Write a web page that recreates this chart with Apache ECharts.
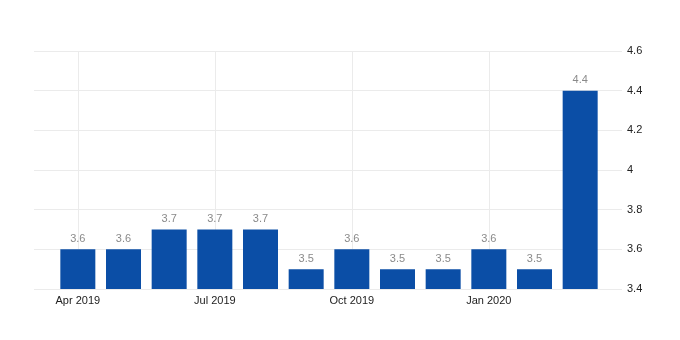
<!DOCTYPE html>
<html>
<head>
<meta charset="utf-8">
<script src="https://cdn.jsdelivr.net/npm/echarts@6/dist/echarts.min.js"></script>
<style>html,body{margin:0;padding:0;background:#fff}#c{width:680px;height:340px}</style>
</head>
<body>
<div id="c"></div>
<script>
const categories = ['Apr 2019','May 2019','Jun 2019','Jul 2019','Aug 2019','Sep 2019','Oct 2019','Nov 2019','Dec 2019','Jan 2020','Feb 2020','Mar 2020'];
const values = [3.6, 3.6, 3.7, 3.7, 3.7, 3.5, 3.6, 3.5, 3.5, 3.6, 3.5, 4.4];
const markedMonths = ['Apr 2019','Jul 2019','Oct 2019','Jan 2020'];
const yMin = 3.4, yMax = 4.6, yStep = 0.2;

const chart = echarts.init(document.getElementById('c'), null, {renderer: 'canvas'});
chart.setOption({
  animation: false,
  grid: [
    {left: 34, right: 58, top: 51, bottom: 51},
    {left: 55, right: 77, top: 51, bottom: 51}
  ],
  xAxis: [
    {gridIndex: 0, type: 'category', data: categories, show: false},
    {gridIndex: 1, type: 'category', data: categories,
     axisLine: {show: false}, axisTick: {show: false},
     axisLabel: {interval: 2, color: '#222', fontSize: 11, fontFamily: 'Liberation Sans', margin: 6},
     splitLine: {show: false}}
  ],
  yAxis: [
    {gridIndex: 0, type: 'value', position: 'right', min: yMin, max: yMax, interval: yStep,
     axisLine: {show: false}, axisTick: {show: false},
     axisLabel: {color: '#222', fontSize: 11, fontFamily: 'Liberation Sans', margin: 5},
     splitLine: {lineStyle: {color: '#ebebeb', width: 1}}},
    {gridIndex: 1, type: 'value', min: yMin, max: yMax, interval: yStep, show: false,
     splitLine: {show: false}}
  ],
  series: [
    {type: 'bar', xAxisIndex: 1, yAxisIndex: 1, data: values, barWidth: 35, z: 3,
     itemStyle: {color: '#0b4ea6'},
     label: {show: true, position: 'top', distance: 5, color: '#8a8a8a', fontSize: 11, fontFamily: 'Liberation Sans'},
     markLine: {silent: true, symbol: 'none', z: 1, label: {show: false},
       lineStyle: {color: '#ebebeb', width: 1, type: 'solid'},
       data: markedMonths.map(m => ({xAxis: m}))}
    }
  ]
});
</script>
</body>
</html>
